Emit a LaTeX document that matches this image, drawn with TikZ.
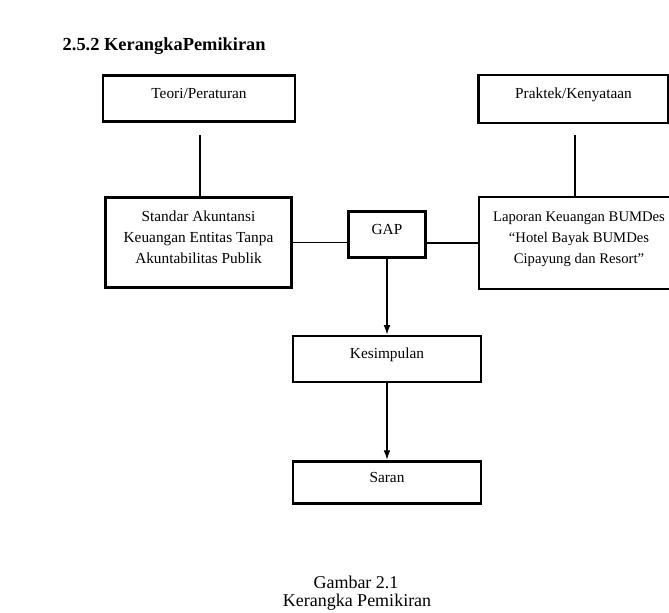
\documentclass[tikz,border=0pt]{standalone}
\usepackage{fontspec}
\setmainfont{Liberation Serif}
\usetikzlibrary{arrows.meta}

\tikzset{
  box/.style={draw, line width=2.2pt, align=center, inner sep=2pt,
    font=\fontsize{11.5}{16}\selectfont, text depth=0.8em},
  link/.style={line width=0.8pt},
  flow/.style={line width=0.8pt, -{Latex[length=7pt,width=5pt]}}
}

\begin{document}
\begin{tikzpicture}[x=0.75pt,y=-0.75pt]
\useasboundingbox (0,0) rectangle (669,612);
\node[anchor=west, font=\fontsize{13.8}{16}\selectfont\bfseries] (judul) at (58,46) {2.5.2 KerangkaPemikiran};
\node[box, minimum width=144pt, minimum height=35pt] (teori) at (199,98.5) {Teori/Peraturan};
\node[box, minimum width=142pt, minimum height=36pt] (praktek) at (573.5,99) {Praktek/Kenyataan};
\node[box, minimum width=140pt, minimum height=68pt] (standar) at (198.5,242.5) {Standar Akuntansi\\Keuangan Entitas Tanpa\\Akuntabilitas Publik};
\node[box, minimum width=58pt, minimum height=35pt] (gap) at (387,234.5) {GAP};
\node[box, minimum width=150pt, minimum height=69pt, font=\fontsize{11}{16}\selectfont] (laporan) at (579,243) {Laporan Keuangan BUMDes\\``Hotel Bayak BUMDes\\Cipayung dan Resort''};
\node[box, minimum width=141pt, minimum height=34.5pt] (kesimpulan) at (387,359) {Kesimpulan};
\node[box, minimum width=141pt, minimum height=32pt] (saran) at (387,482.5) {Saran};
\node[font=\fontsize{13.5}{16}\selectfont] (gambar) at (356,582) {Gambar 2.1};
\node[font=\fontsize{13.5}{16}\selectfont] (nama) at (357,602) {Kerangka Pemikiran};
% garis penghubung
\coordinate (teoriend) at (200,135);
\coordinate (praktekend) at (575,135);
\draw[link] (teoriend) -- (teoriend |- standar.north);
\draw[link] (praktekend) -- (praktekend |- laporan.north);
\draw[link] (standar.east) -- (standar.east -| gap.west);
\draw[link] (laporan.west) -- (laporan.west -| gap.east);
\draw[flow] (gap.south) -- (kesimpulan.north);
\draw[flow] (kesimpulan.south) -- (saran.north);
\end{tikzpicture}
\end{document}
